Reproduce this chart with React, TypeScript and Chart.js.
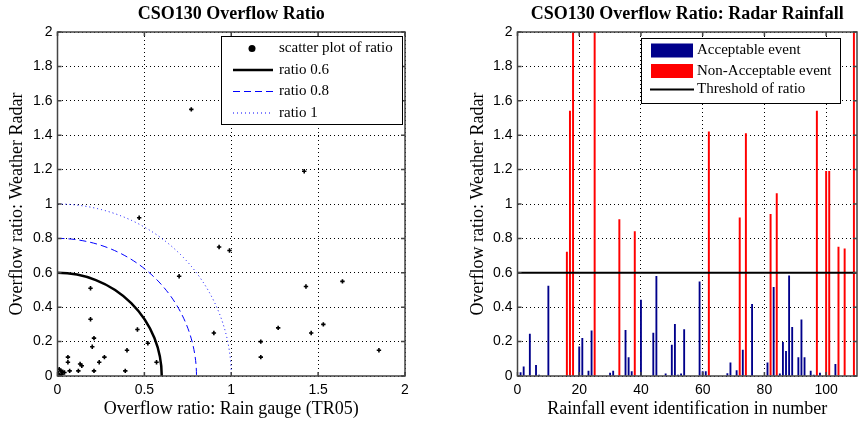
import React, { useEffect, useRef } from 'react';
import { Chart, registerables } from 'chart.js';

Chart.register(...registerables);

// ---------------- Left panel data ----------------
const rainGaugeRatio = [0.77, 0.47, 0.93, 0.99, 0.70, 0.19, 1.42, 1.43, 1.64, 1.27, 1.46, 1.53, 1.17, 1.17, 1.85, 0.19, 0.46, 0.90, 0.21, 0.20, 0.52, 0.40, 0.06, 0.27, 0.06, 0.24, 0.13, 0.14, 0.57, 0.12, 0.21, 0.39, 0.01, 0.03, 0.07, 0.005, 0.024, 0.04, 0.02, 0.01];
const radarRatio = [1.55, 0.92, 0.75, 0.73, 0.58, 0.51, 1.19, 0.52, 0.55, 0.28, 0.25, 0.30, 0.20, 0.11, 0.15, 0.33, 0.27, 0.25, 0.22, 0.17, 0.19, 0.15, 0.11, 0.11, 0.08, 0.08, 0.07, 0.06, 0.08, 0.03, 0.03, 0.03, 0.04, 0.025, 0.03, 0.016, 0.01, 0.02, 0.03, 0.005];
const ratioLevels = [0.6, 0.8, 1];
const ratioLabels = ['ratio 0.6', 'ratio 0.8', 'ratio 1'];
const scatterLabel = 'scatter plot of ratio';
const scatterXTicks = [0, 0.5, 1, 1.5, 2];
const ratioYTicks = [0, 0.2, 0.4, 0.6, 0.8, 1, 1.2, 1.4, 1.6, 1.8, 2];

// ---------------- Right panel data ----------------
const eventIds = [1, 2, 4, 6, 7, 10, 16, 17, 18, 20, 21, 23, 24, 25, 30, 31, 33, 35, 36, 37, 38, 40, 44, 45, 48, 50, 51, 52, 53, 54, 59, 60, 61, 62, 68, 69, 71, 72, 73, 74, 76, 81, 82, 83, 84, 85, 86, 87, 88, 89, 91, 92, 93, 95, 96, 97, 98, 100, 101, 103, 104, 106, 109];
const eventRatios = [0.02, 0.054, 0.244, 0.062, 0.006, 0.523, 0.72, 1.54, 2.5, 0.169, 0.219, 0.029, 0.262, 2.5, 0.017, 0.029, 0.91, 0.265, 0.107, 0.025, 0.84, 0.442, 0.25, 0.58, 0.012, 0.18, 0.30, 0.006, 0.012, 0.27, 0.548, 0.025, 0.025, 1.42, 0.014, 0.076, 0.031, 0.92, 0.151, 1.41, 0.417, 0.076, 0.94, 0.516, 1.06, 0.012, 0.196, 0.143, 0.583, 0.283, 0.107, 0.326, 0.107, 0.029, 0.006, 1.54, 0.017, 1.19, 1.19, 0.068, 0.75, 0.74, 2.5];
const thresholdRatio = 0.6;
const eventXTicks = [0, 20, 40, 60, 80, 100];
const eventXMax = 110;
const legendLabels = ['Acceptable event', 'Non-Acceptable event', 'Threshold of ratio'];

// ---------------- Styles ----------------
const SANS = '"Liberation Sans", Arial, Helvetica, sans-serif';
const SERIF = '"Liberation Serif", "Times New Roman", Times, serif';
const tickFont = { family: SANS, size: 14 };
const axisTitleFont = { family: SERIF, size: 18 };
const FRAME = '#444';
const NAVY = '#00008b';
const RED = '#ff0000';
const BLUE = '#0000ff';

function fixedTicks(values: number[]) {
  return (s: any) => {
    s.ticks = values.map((v) => ({ value: v }));
  };
}

const framePlugin = {
  id: 'frame',
  afterDraw(chart: any) {
    const { ctx, chartArea: a, scales } = chart;
    ctx.save();
    ctx.strokeStyle = FRAME;
    ctx.lineWidth = 1.5;
    ctx.setLineDash([]);
    ctx.strokeRect(a.left, a.top, a.right - a.left, a.bottom - a.top);
    const L = 4;
    ctx.beginPath();
    scales.x.ticks.forEach((t: any) => {
      const px = scales.x.getPixelForValue(t.value);
      ctx.moveTo(px, a.bottom);
      ctx.lineTo(px, a.bottom - L);
      ctx.moveTo(px, a.top);
      ctx.lineTo(px, a.top + L);
    });
    scales.y.ticks.forEach((t: any) => {
      const py = scales.y.getPixelForValue(t.value);
      ctx.moveTo(a.left, py);
      ctx.lineTo(a.left + L, py);
      ctx.moveTo(a.right, py);
      ctx.lineTo(a.right - L, py);
    });
    ctx.stroke();
    const title = chart.options.plugins.frame?.title;
    if (title) {
      ctx.fillStyle = '#000';
      ctx.font = `bold 18px ${SERIF}`;
      ctx.textAlign = 'center';
      ctx.textBaseline = 'middle';
      ctx.fillText(title, (a.left + a.right) / 2, 14);
    }
    ctx.restore();
  },
};

const arcStyles = [
  { color: '#000', width: 2.5, dash: [] as number[] },
  { color: BLUE, width: 1, dash: [7, 4] },
  { color: BLUE, width: 1, dash: [1, 3] },
];

const arcsPlugin = {
  id: 'arcs',
  beforeDatasetsDraw(chart: any) {
    const { ctx, chartArea: a, scales } = chart;
    const xs = scales.x;
    const ys = scales.y;
    const cx = xs.getPixelForValue(0);
    const cy = ys.getPixelForValue(0);
    ctx.save();
    ctx.beginPath();
    ctx.rect(a.left, a.top, a.right - a.left, a.bottom - a.top);
    ctx.clip();
    ratioLevels.forEach((r, i) => {
      const rx = xs.getPixelForValue(r) - cx;
      const ry = cy - ys.getPixelForValue(r);
      const st = arcStyles[i];
      ctx.strokeStyle = st.color;
      ctx.lineWidth = st.width;
      ctx.setLineDash(st.dash);
      ctx.beginPath();
      ctx.ellipse(cx, cy, rx, ry, 0, -Math.PI / 2, 0);
      ctx.stroke();
    });
    ctx.restore();
  },
};

const leftLegendPlugin = {
  id: 'leftLegend',
  afterDraw(chart: any) {
    const { ctx } = chart;
    const box = { x: 221, y: 36, w: 181, h: 88 };
    const rows = [48.5, 70, 91.5, 113];
    ctx.save();
    ctx.fillStyle = '#fff';
    ctx.fillRect(box.x, box.y, box.w, box.h);
    ctx.strokeStyle = '#000';
    ctx.lineWidth = 1;
    ctx.setLineDash([]);
    ctx.strokeRect(box.x + 0.5, box.y + 0.5, box.w, box.h);
    ctx.fillStyle = '#000';
    ctx.beginPath();
    ctx.arc(252, rows[0], 3.5, 0, Math.PI * 2);
    ctx.fill();
    arcStyles.forEach((st, i) => {
      ctx.strokeStyle = st.color;
      ctx.lineWidth = st.width;
      ctx.setLineDash(st.dash);
      ctx.beginPath();
      ctx.moveTo(233, rows[i + 1]);
      ctx.lineTo(273, rows[i + 1]);
      ctx.stroke();
    });
    ctx.setLineDash([]);
    ctx.fillStyle = '#000';
    ctx.font = `15px ${SERIF}`;
    ctx.textAlign = 'left';
    ctx.textBaseline = 'middle';
    ctx.fillText(scatterLabel, 279, rows[0]);
    ratioLabels.forEach((l, i) => ctx.fillText(l, 279, rows[i + 1]));
    ctx.restore();
  },
};

const rightLegendPlugin = {
  id: 'rightLegend',
  afterDraw(chart: any) {
    const { ctx } = chart;
    const box = { x: 201, y: 38, w: 199, h: 65 };
    const rows = [50.5, 71, 89.5];
    ctx.save();
    ctx.fillStyle = '#fff';
    ctx.fillRect(box.x, box.y, box.w, box.h);
    ctx.strokeStyle = '#000';
    ctx.lineWidth = 1;
    ctx.strokeRect(box.x + 0.5, box.y + 0.5, box.w, box.h);
    ctx.fillStyle = NAVY;
    ctx.fillRect(211, rows[0] - 7, 42, 14);
    ctx.fillStyle = RED;
    ctx.fillRect(211, rows[1] - 7, 42, 14);
    ctx.strokeStyle = '#000';
    ctx.lineWidth = 2;
    ctx.beginPath();
    ctx.moveTo(210, rows[2]);
    ctx.lineTo(254, rows[2]);
    ctx.stroke();
    ctx.fillStyle = '#000';
    ctx.font = `15px ${SERIF}`;
    ctx.textAlign = 'left';
    ctx.textBaseline = 'middle';
    legendLabels.forEach((l, i) => ctx.fillText(l, 257, rows[i]));
    ctx.restore();
  },
};

function yScale(titlePadTop: number, width: number) {
  return {
    type: 'linear',
    min: 0,
    max: 2,
    afterBuildTicks: fixedTicks(ratioYTicks),
    ticks: { font: tickFont, color: '#000', padding: 5, autoSkip: false, callback: (v: number) => String(v) },
    grid: { color: '#000', lineWidth: 1, drawTicks: false },
    border: { display: false, dash: [1, 3] },
    title: { display: true, text: 'Overflow ratio: Weather Radar', font: axisTitleFont, color: '#000', padding: { top: titlePadTop, bottom: 0 } },
    afterFit: (s: any) => {
      s.width = width;
      s.paddingTop = 0;
      s.paddingBottom = 0;
    },
  };
}

function xScale(min: number, max: number, ticks: number[], title: string) {
  return {
    type: 'linear',
    min,
    max,
    offset: false,
    afterBuildTicks: fixedTicks(ticks),
    ticks: { font: tickFont, color: '#000', padding: 6, autoSkip: false, maxRotation: 0, callback: (v: number) => String(v) },
    grid: { color: '#000', lineWidth: 1, drawTicks: false, offset: false },
    border: { display: false, dash: [1, 3] },
    title: { display: true, text: title, font: axisTitleFont, color: '#000', padding: { top: 0, bottom: 3 } },
    afterFit: (s: any) => {
      s.height = 47;
      s.paddingLeft = 0;
      s.paddingRight = 0;
    },
  };
}

export default function App() {
  const leftRef = useRef<HTMLCanvasElement>(null);
  const rightRef = useRef<HTMLCanvasElement>(null);

  useEffect(() => {
    const scatterPoints = rainGaugeRatio.map((x, i) => ({ x, y: radarRatio[i] }));
    const left = new Chart(leftRef.current as HTMLCanvasElement, {
      type: 'scatter',
      data: {
        datasets: [
          {
            label: scatterLabel,
            data: scatterPoints,
            pointStyle: 'cross',
            pointRadius: 2.2,
            borderColor: '#000',
            backgroundColor: '#000',
            pointBorderWidth: 1.6,
          } as any,
        ],
      },
      options: {
        responsive: false,
        animation: false,
        devicePixelRatio: 1,
        events: [],
        layout: { padding: { left: 0, top: 32, right: 35, bottom: 0 } },
        plugins: { legend: { display: false }, tooltip: { enabled: false }, frame: { title: 'CSO130 Overflow Ratio' } } as any,
        scales: {
          x: xScale(0, 2, scatterXTicks, 'Overflow ratio: Rain gauge (TR05)'),
          y: yScale(6.7, 57.5),
        } as any,
      },
      plugins: [arcsPlugin, framePlugin, leftLegendPlugin],
    });

    const acceptable = eventIds
      .map((id, i) => ({ x: id, y: eventRatios[i] }))
      .filter((p) => p.y <= thresholdRatio);
    const nonAcceptable = eventIds
      .map((id, i) => ({ x: id, y: eventRatios[i] }))
      .filter((p) => p.y > thresholdRatio);

    const right = new Chart(rightRef.current as HTMLCanvasElement, {
      type: 'bar',
      data: {
        datasets: [
          {
            type: 'bar',
            label: legendLabels[0],
            data: acceptable,
            backgroundColor: NAVY,
            barThickness: 1.2,
            grouped: false,
            order: 2,
          } as any,
          {
            type: 'bar',
            label: legendLabels[1],
            data: nonAcceptable,
            backgroundColor: RED,
            barThickness: 1.3,
            grouped: false,
            order: 2,
          } as any,
          {
            type: 'line',
            label: legendLabels[2],
            data: [
              { x: 0, y: thresholdRatio },
              { x: eventXMax, y: thresholdRatio },
            ],
            borderColor: '#000',
            borderWidth: 2,
            pointRadius: 0,
            order: 0,
          } as any,
        ],
      },
      options: {
        responsive: false,
        animation: false,
        devicePixelRatio: 1,
        events: [],
        layout: { padding: { left: 0, top: 32, right: 2, bottom: 0 } },
        plugins: { legend: { display: false }, tooltip: { enabled: false }, frame: { title: 'CSO130 Overflow Ratio: Radar Rainfall' } } as any,
        scales: {
          x: xScale(0, eventXMax, eventXTicks, 'Rainfall event identification in number'),
          y: yScale(27.2, 77.5),
        } as any,
      },
      plugins: [framePlugin, rightLegendPlugin],
    });

    return () => {
      left.destroy();
      right.destroy();
    };
  }, []);

  return (
    <div style={{ position: 'fixed', left: 0, top: 0, width: 859, height: 423, background: '#fff', overflow: 'hidden' }}>
      <canvas ref={leftRef} width={440} height={423} style={{ position: 'absolute', left: 0, top: 0, width: 440, height: 423 }} />
      <canvas ref={rightRef} width={419} height={423} style={{ position: 'absolute', left: 440, top: 0, width: 419, height: 423 }} />
    </div>
  );
}
